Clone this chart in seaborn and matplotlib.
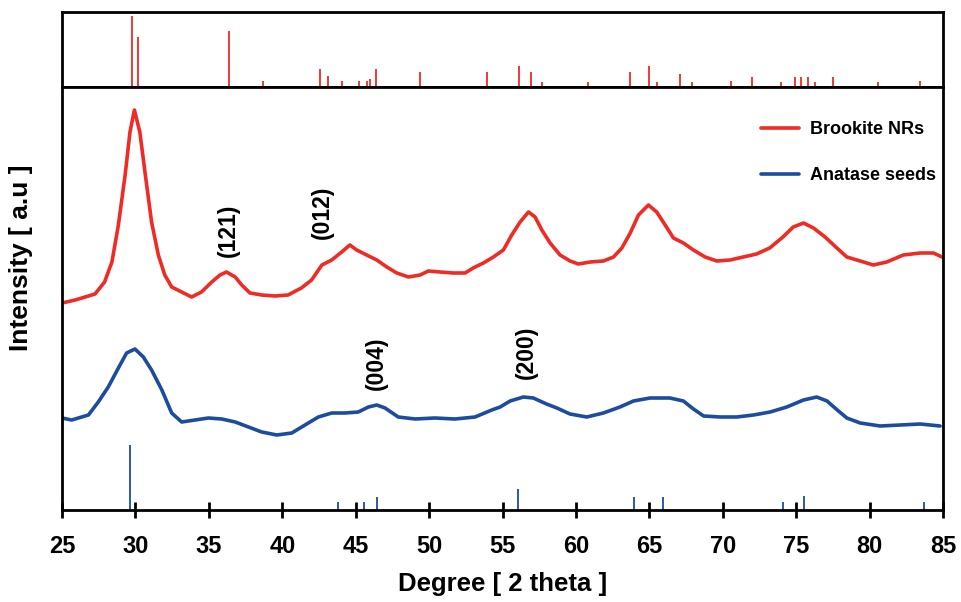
import matplotlib
matplotlib.use("Agg")
import matplotlib.pyplot as plt
import seaborn as sns
import pandas as pd

sns.set_theme(style="white")
plt.rcParams['font.family'] = ['Liberation Sans', 'DejaVu Sans']
plt.rcParams['font.weight'] = 'bold'
plt.rcParams['text.color'] = 'black'
plt.rcParams['axes.labelcolor'] = 'black'
plt.rcParams['xtick.color'] = 'black'
plt.rcParams['ytick.color'] = 'black'

# ---------------- data ----------------
brookite_deg = [25.0, 25.9, 27.25, 27.9, 28.4, 28.84, 29.3, 29.63, 29.93, 30.3, 30.65, 31.1, 31.56,
                32.0, 32.47, 33.15, 33.83, 34.5, 35.2, 35.76, 36.2, 36.8, 37.24, 37.8, 38.6, 39.5,
                40.4, 41.3, 42.0, 42.7, 43.37, 44.05, 44.6, 45.07, 45.75, 46.44, 47.12, 47.8, 48.6,
                49.39, 49.95, 50.75, 51.65, 52.45, 53.0, 53.7, 54.38, 55.06, 55.63, 56.2, 56.77,
                57.22, 57.68, 58.24, 58.92, 59.6, 60.17, 60.97, 61.87, 62.56, 63.13, 63.7, 64.26,
                64.94, 65.5, 66.08, 66.64, 67.32, 68.0, 68.8, 69.6, 70.5, 71.4, 72.3, 73.2, 74.1,
                74.8, 75.5, 76.18, 76.97, 77.77, 78.45, 79.36, 80.26, 81.17, 82.3, 83.45, 84.35, 84.93]
brookite_int = [207, 210, 216, 228, 248, 285, 335, 378, 400, 378, 338, 288, 255,
                235, 223, 218, 213, 218, 228, 235, 238, 233, 225, 217, 215, 214,
                215, 222, 230, 245, 250, 258, 265, 260, 255, 250, 243, 237, 233,
                235, 239, 238, 237, 237, 242, 247, 253, 260, 275, 288, 298,
                293, 280, 267, 255, 249, 246, 248, 249, 253, 262, 277, 295,
                305, 298, 285, 272, 267, 260, 253, 249, 250, 253, 256, 262, 273,
                283, 287, 282, 273, 262, 253, 249, 245, 248, 255, 257, 257, 253]

anatase_deg = [25.0, 25.66, 26.8, 27.47, 28.15, 28.84, 29.4, 29.97, 30.54, 31.1, 31.8, 32.47,
               33.15, 34.06, 34.97, 35.88, 36.8, 37.7, 38.6, 39.63, 40.65, 41.55, 42.46, 43.37,
               44.28, 45.18, 45.87, 46.44, 47.0, 47.9, 49.05, 50.4, 51.77, 53.13, 54.27, 54.84,
               55.52, 56.42, 57.1, 58.0, 58.7, 59.6, 60.74, 61.87, 63.0, 63.92, 65.05, 66.4,
               67.32, 68.0, 68.7, 69.82, 70.96, 72.09, 73.23, 74.36, 75.5, 76.4, 77.1, 77.8,
               78.45, 79.36, 80.72, 82.1, 83.45, 84.8]
anatase_int = [92, 90, 95, 108, 123, 142, 157, 161, 153, 140, 120, 97,
               88, 90, 92, 91, 88, 83, 78, 75, 77, 85, 93, 97,
               97, 98, 103, 105, 102, 93, 91, 92, 91, 93, 100, 103,
               109, 113, 112, 106, 102, 96, 93, 97, 103, 109, 112, 112,
               109, 101, 94, 93, 93, 95, 98, 103, 110, 113, 109, 100,
               92, 87, 84, 85, 86, 84]

brookite_ref_deg = [29.8, 30.15, 36.35, 38.7, 42.6, 43.1, 44.1, 45.2, 45.8, 46.0, 46.4, 49.4,
                    53.95, 56.15, 56.93, 57.7, 60.8, 63.7, 64.99, 65.55, 67.1, 67.9, 70.55,
                    71.98, 73.98, 74.95, 75.3, 75.83, 76.3, 77.5, 80.6, 83.4]
brookite_ref_int = [100, 70, 79, 8.5, 25, 15.5, 8.5, 8.5, 8.5, 11, 25, 20,
                    20, 29, 20, 6.6, 6.6, 20, 29, 6.6, 18, 6.6, 8.5,
                    13, 6.6, 13, 13, 13, 6.6, 13, 6.6, 8.5]

anatase_ref_deg = [29.6, 43.78, 45.55, 46.43, 56.06, 63.97, 65.95, 74.09, 75.52, 83.72]
anatase_ref_int = [100, 11.8, 11.8, 19.5, 32, 19.5, 19.5, 11.8, 22, 11.8]

peak_labels = ["(121)", "(012)", "(004)", "(200)"]
peak_x = [36.33, 42.7, 46.4, 56.65]
peak_y = [280, 298, 147, 158]

xticks = [25, 30, 35, 40, 45, 50, 55, 60, 65, 70, 75, 80, 85]

RED = "#EE2B24"
BLUE = "#1C4C9E"

# ---------------- figure ----------------
W, H = 962, 602
fig = plt.figure(figsize=(W / 100, H / 100), dpi=100)
ax_top = fig.add_axes([62 / W, 1 - 86.7 / H, 881 / W, 75 / H])
ax = fig.add_axes([62 / W, 1 - 510 / H, 881 / W, 423.3 / H])

# top panel: brookite reference pattern
ax_top.vlines(brookite_ref_deg, 0, brookite_ref_int, color=RED, linewidth=1.3)
ax_top.set_xlim(25, 85)
ax_top.set_ylim(0, 105.6)
ax_top.set_xticks([])
ax_top.set_yticks([])

# main panel
df_b = pd.DataFrame({"deg": brookite_deg, "I": brookite_int})
df_a = pd.DataFrame({"deg": anatase_deg, "I": anatase_int})
sns.lineplot(data=df_b, x="deg", y="I", ax=ax, color=RED, linewidth=2.6,
             label="Brookite NRs", estimator=None, sort=False)
sns.lineplot(data=df_a, x="deg", y="I", ax=ax, color=BLUE, linewidth=2.6,
             label="Anatase seeds", estimator=None, sort=False)
ax.vlines(anatase_ref_deg, 0, [v * 0.65 for v in anatase_ref_int], color=BLUE, linewidth=1.3)

for lab, px, py in zip(peak_labels, peak_x, peak_y):
    ax.text(px, py, lab, rotation=90, ha="center", va="center",
            fontsize=16.5, fontweight="bold", color="black")

ax.set_xlim(25, 85)
ax.set_ylim(0, 423.3)
ax.set_xticks(xticks)
ax.set_xticklabels([str(t) for t in xticks], fontsize=17, fontweight="bold")
ax.set_yticks([])
ax.tick_params(axis="x", direction="inout", length=12, width=2, color="black",
               pad=12, bottom=True, top=False)
ax.set_xlabel("Degree [ 2 theta ]", fontsize=18.5, fontweight="bold", labelpad=10)
ax.set_ylabel("Intensity [ a.u ]", fontsize=19, fontweight="bold")
ax.yaxis.set_label_coords(-0.033, 0.597)

for a in (ax, ax_top):
    for s in a.spines.values():
        s.set_visible(True)
        s.set_color("black")
        s.set_linewidth(2)
    a.set_facecolor("white")

leg = ax.legend(loc="upper right", bbox_to_anchor=(1.011, 0.957), frameon=False,
                prop={"weight": "bold", "size": 13}, handlelength=2.1,
                handletextpad=0.65, labelspacing=1.6)
for line in leg.get_lines():
    line.set_linewidth(2.6)

fig.savefig("out.png", dpi=100, facecolor="white")
